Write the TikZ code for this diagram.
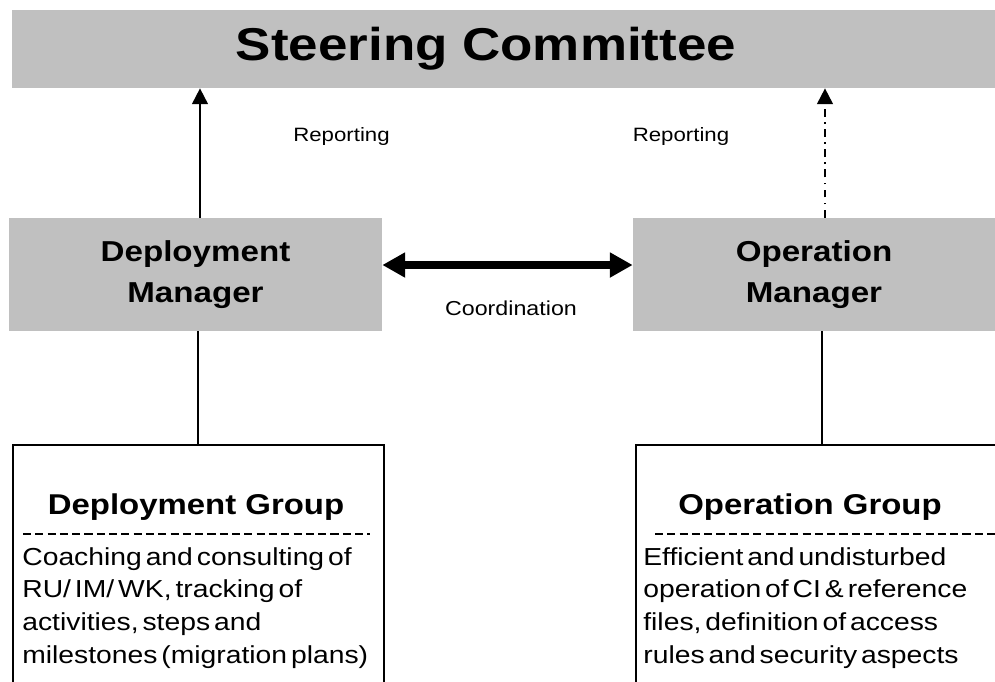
\documentclass[tikz,border=0pt]{standalone}
\usepackage{fontspec}
\setmainfont{Liberation Sans}[FakeStretch=1.15]
\usepackage{xcolor}
\definecolor{boxgray}{HTML}{C0C0C0}
\usetikzlibrary{arrows.meta, positioning}
\protected\def\narrowspace{\spaceskip=0.16em plus 0.05em\relax}
\tikzstyle{topbox}   = [rectangle, fill=boxgray, inner sep=0pt, minimum width=19.66cm,
                        minimum height=1.56cm]
\tikzstyle{toptitle} = [inner sep=0pt, font=\bfseries\fontsize{26.2}{32}\selectfont]
\tikzstyle{mgrbox}   = [rectangle, fill=boxgray, inner sep=0pt, minimum height=2.26cm,
                        align=center, font=\bfseries\fontsize{16.4}{23.3}\selectfont]
\tikzstyle{grpbox}   = [rectangle, draw=black, line width=1.1pt, fill=white,
                        minimum width=7.44cm, minimum height=5.1cm]
\tikzstyle{grptitle} = [anchor=base, inner sep=0pt, font=\bfseries\fontsize{16.3}{20}\selectfont]
\tikzstyle{grptext}  = [anchor=north west, inner sep=0pt, align=left,
                        font=\fontsize{14}{18.6}\selectfont\narrowspace]
\tikzstyle{note}     = [anchor=base, inner sep=0pt, font=\fontsize{11}{13}\selectfont]
\tikzstyle{arrow}    = [-{Triangle[length=9pt, width=9pt]}, line width=1.1pt]
\tikzstyle{dotarrow} = [arrow, dash pattern=on 4.5pt off 3pt on 1pt off 3pt]
\tikzstyle{duoarrow} = [{Triangle[length=13pt, width=13.5pt]}-{Triangle[length=13pt, width=13.5pt]},
                        line width=4pt]
\tikzstyle{sepline}  = [line width=1.1pt, dash pattern=on 4.6pt off 2.4pt]
\tikzstyle{link}     = [line width=0.8pt]

\begin{document}
\begin{tikzpicture}[x=0.02cm, y=-0.02cm]
  \useasboundingbox (0,0) rectangle (995,681);

  \node[topbox] (steer) at (503.5,49) {};
  \node[toptitle] (steertitle) at (486,49) {Steering Committee};
  \node[mgrbox, minimum width=7.46cm] (depmgr) at (195.5,274.5) {Deployment\\Manager};
  \node[mgrbox, minimum width=7.24cm] (opmgr)  at (814,274.5)   {Operation\\Manager};
  \node[grpbox] (depgrp) at (198.5,572.5) {};
  \node[grpbox, minimum width=7.48cm] (opgrp) at (823,572.5) {};

  \node[note] (rep1)  at (341.5,141) {Reporting};
  \node[note] (rep2)  at (681,141)   {Reporting};
  \node[note, font=\fontsize{11.5}{14}\selectfont] (coord) at (511,315) {Coordination};

  \node[grptitle] (deptitle) at (196,514) {Deployment Group};
  \node[grptitle] (optitle)  at (810,514) {Operation Group};
  \node[grptext] (deptext) at (22,547)
    {Coaching and consulting of\\RU/ IM/ WK, tracking of\\activities, steps and\\milestones (migration plans)};
  \node[grptext] (optext) at (643,547)
    {Efficient and undisturbed\\operation of CI \& reference\\files, definition of access\\rules and security aspects};

  % helper x positions
  \coordinate (lx) at (200,0);
  \coordinate (rx) at (825,0);
  \coordinate (ly) at (198,0);
  \coordinate (ry) at (822,0);

  \draw[arrow]    (depmgr.north -| lx) -- (steer.south -| lx);
  \draw[dotarrow] (opmgr.north -| rx)  -- (steer.south -| rx);
  \draw[duoarrow] ([yshift=0.19cm]depmgr.east) -- ([yshift=0.19cm]opmgr.west);
  \draw[link]     (depmgr.south -| ly) -- (depgrp.north -| ly);
  \draw[link]     (opmgr.south -| ry)  -- (opgrp.north -| ry);

  % separators
  \draw[sepline] (23,534) -- (370,534);
  \draw[sepline] (655,534) -- (995,534);
\end{tikzpicture}
\end{document}
